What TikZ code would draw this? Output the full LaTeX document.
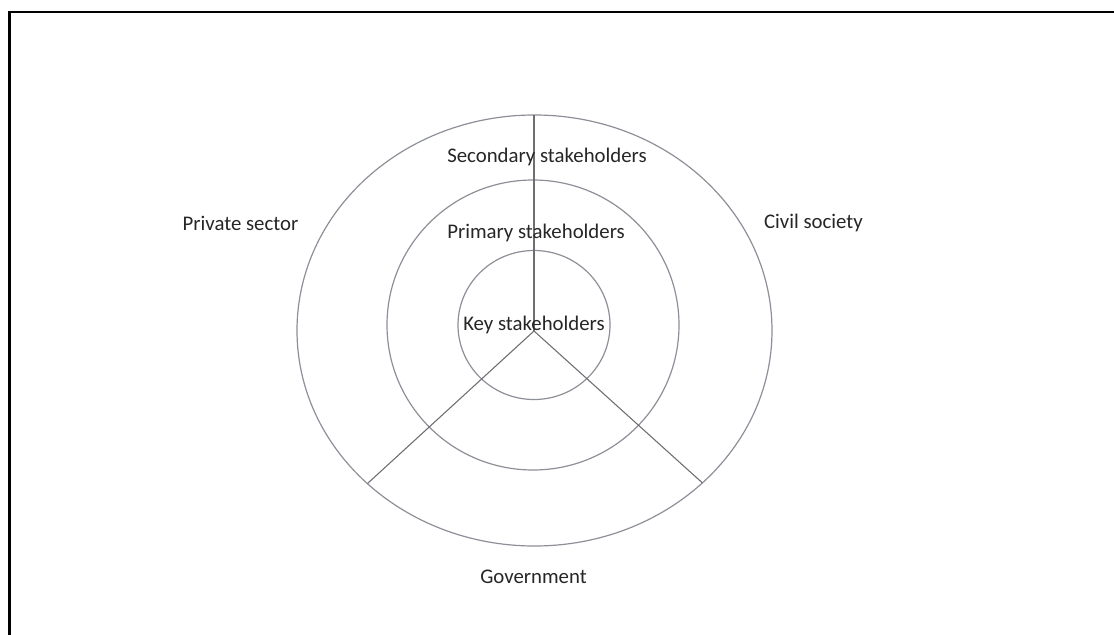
\documentclass[tikz,border=0pt]{standalone}
\usepackage{fontspec}
\setmainfont{Carlito}
\begin{document}
\begin{tikzpicture}[x=0.75pt,y=-0.75pt,
  ring/.style={draw=ringgrey,line width=0.9pt},
  spoke/.style={draw=spokegrey,line width=0.8pt},
  lbl/.style={text=textgrey,font=\fontsize{15.6}{18}\selectfont,inner sep=0pt},
  frameline/.style={draw=black,line width=1.6pt}]
\definecolor{ringgrey}{HTML}{8E9099}
\definecolor{spokegrey}{HTML}{6E6E72}
\definecolor{textgrey}{HTML}{262626}
\useasboundingbox (0,0) rectangle (1114,635);
\fill[white] (0,0) rectangle (1114,635);
\draw[frameline] (9.5,640) -- (9.5,12) -- (1120,12);
% rings
\draw[ring] (534.5,330.5) ellipse [x radius=237.5, y radius=215.5];
\draw[ring] (533,325) ellipse [x radius=146, y radius=145];
\draw[ring] (534,325) ellipse [x radius=76, y radius=74.5];
% spokes
\coordinate (c) at (534,331);
\coordinate (top) at (534,115);
\coordinate (bl) at (367.5,483.5);
\coordinate (br) at (702.5,483);
\draw[spoke] (c) -- (top);
\draw[spoke] (c) -- (bl);
\draw[spoke] (c) -- (br);
% labels
\node[lbl] (sec) at (547,157) {Secondary stakeholders};
\node[lbl] (pri) at (536,233) {Primary stakeholders};
\node[lbl] (key) at (534,325) {Key stakeholders};
\node[lbl] (priv) at (240.5,223) {Private sector};
\node[lbl] (civ) at (813.5,223) {Civil society};
\node[lbl] (gov) at (533.5,577) {Government};
\end{tikzpicture}
\end{document}
